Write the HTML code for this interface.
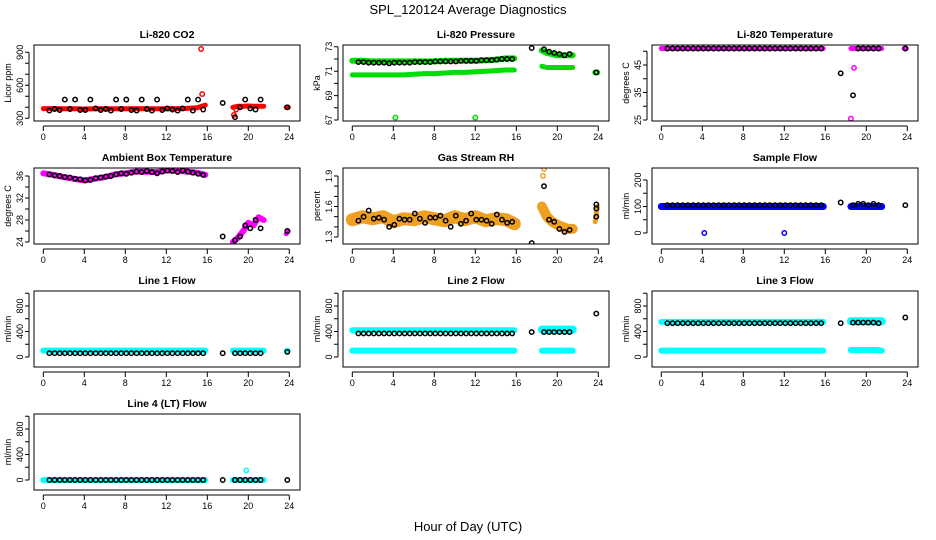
<!DOCTYPE html>
<html><head><meta charset="utf-8"><style>
body{margin:0;background:#fff}
svg{display:block;font-family:"Liberation Sans",sans-serif}
</style></head><body>
<svg id="c" width="936" height="540" viewBox="0 0 936 540">
<text x="468" y="14" text-anchor="middle" font-size="13">SPL_120124  Average Diagnostics</text>
<text x="468" y="531" text-anchor="middle" font-size="13">Hour of Day (UTC)</text>
</svg>
<script>
const H1=[0,1,2,3,4,5,6,7,8,9,10,11,12,13,14,15,15.8];
const H2=[18.5,19,19.5,20,20.5,21,21.5];
const H3=[23.7,23.9];
const B1=[0.6,1.1,1.6,2.1,2.6,3.1,3.6,4.1,4.6,5.1,5.6,6.1,6.6,7.1,7.6,8.1,8.6,9.1,9.6,10.1,10.6,11.1,11.6,12.1,12.6,13.1,13.6,14.1,14.6,15.1,15.6];
const BX=[17.5,18.7,19.2,19.7,20.2,20.7,21.2,23.8];
const xTicks=[0,4,8,12,16,20,24];

// CO2
const co2Red1=[388,388,386,386,385,386,387,386,386,388,387,386,386,388,390,395,420];
const co2Red2=[400,410,410,412,410,410,410];
const co2Red3=[400,400];
const co2RedOutH=[15.4,15.5,18.6,18.8];
const co2RedOut=[930,520,330,380];
const co2Black=[370,385,375,470,385,470,375,375,470,390,375,385,370,470,385,470,375,370,470,385,370,470,375,390,380,370,390,470,370,470,380];
const co2BlackX=[440,310,400,470,390,380,470,400];
// Pressure
const pGreenHi=[71.85,71.85,71.8,71.8,71.8,71.8,71.8,71.8,71.8,71.85,71.85,71.85,71.85,71.9,71.95,72.05,72.05];
const pGreenLo=[70.7,70.7,70.7,70.7,70.7,70.7,70.75,70.8,70.8,70.85,70.9,70.9,70.95,71,71.05,71.1,71.1];
const pBlack=[71.75,71.75,71.7,71.7,71.7,71.7,71.65,71.7,71.7,71.7,71.7,71.75,71.75,71.75,71.75,71.8,71.8,71.8,71.8,71.8,71.85,71.85,71.85,71.85,71.9,71.9,71.9,71.95,72,72,72];
const pBlackX=[72.9,72.8,72.6,72.5,72.4,72.3,72.4,70.9];
const pGreenHi2=[72.7,72.5,72.4,72.3,72.3,72.3,72.3];
const pGreenLo2=[71.4,71.3,71.3,71.3,71.3,71.3,71.3];
const pGreen3=[70.9,70.9];
const pGreenOutH=[4.2,12];
const pGreenOut=[67.2,67.2];
// Li-820 temperature
const tMag1=[51,51,51,51,51,51,51,51,51,51,51,51,51,51,51,51,51];
const tMag2=[51,51,51,51,51,51,51];
const tMag3=[51,51];
const tBlack=[51,51,51,51,51,51,51,51,51,51,51,51,51,51,51,51,51,51,51,51,51,51,51,51,51,51,51,51,51,51,51];
const tBlackX=[42,34,51,51,51,51,51,51];
const tMagOutH=[18.5,18.8];
const tMagOut=[25.5,44];
// Ambient
const aMag1=[36.5,36.2,35.8,35.5,35.2,35.5,35.8,36.3,36.5,36.8,36.8,36.7,37,37,36.8,36.6,36.2];
const aMag2=[24,24.8,26,27.5,27,28.5,28];
const aMag3=[25.5,26];
const aBlack=[36.3,36.1,36,35.8,35.7,35.5,35.4,35.2,35.3,35.6,35.7,35.9,36,36.3,36.5,36.4,36.6,36.8,36.7,36.9,36.7,36.5,36.8,37,36.9,36.7,37,36.8,36.6,36.4,36.2];
const aBlackX=[25,24.3,25,27,26.5,28,26.5,26];
// RH
const rhOr1=[1.47,1.5,1.48,1.5,1.45,1.48,1.47,1.5,1.48,1.46,1.5,1.47,1.5,1.46,1.48,1.47,1.43];
const rhOr2=[1.6,1.5,1.45,1.42,1.4,1.38,1.38];
const rhOr3=[1.45,1.6];
const rhOrOutH=[18.6,18.7];
const rhOrOut=[1.9,1.97];
const rhBlack=[1.46,1.5,1.56,1.48,1.49,1.47,1.40,1.42,1.48,1.47,1.47,1.53,1.48,1.44,1.49,1.49,1.51,1.46,1.40,1.51,1.43,1.46,1.53,1.47,1.47,1.46,1.43,1.52,1.47,1.44,1.45];
const rhBlackX=[1.24,1.8,1.47,1.45,1.38,1.35,1.37,1.58];
const rhBlackOutH=[23.8,23.8];
const rhBlackOut=[1.5,1.62];
// Sample flow
const sBlue1=[100,100,100,100,100,100,100,100,100,100,100,100,100,100,100,100,100];
const sBlue2=[100,100,100,100,100,100,100];
const sBlack=[105,105,105,105,105,105,105,105,105,105,105,105,105,105,105,105,105,105,105,105,105,105,105,105,105,105,105,105,105,105,105];
const sBlackX=[115,105,110,110,105,110,105,105];
const sBlueOutH=[4.2,12];
const sBlueOut=[0,0];
// Line 1
const l1Cyan1=[100,100,100,100,100,100,100,100,100,100,100,100,100,100,100,100,100];
const l1Cyan2=[100,100,100,100,100,100,100];
const l1Cyan3=[100,100];
const l1Black=[60,60,60,60,60,60,60,60,60,60,60,60,60,60,60,60,60,60,60,60,60,60,60,60,60,60,60,60,60,60,60];
const l1BlackX=[60,60,60,60,60,60,60,80];
// Line 2
const l2CyanLo1=[100,100,100,100,100,100,100,100,100,100,100,100,100,100,100,100,100];
const l2CyanHi1=[420,420,420,420,420,420,420,420,420,420,420,420,420,420,420,420,420];
const l2CyanLo2=[100,100,100,100,100,100,100];
const l2CyanHi2=[430,430,430,430,430,430,430];
const l2Black=[370,370,370,370,370,370,370,370,370,370,370,370,370,370,370,370,370,370,370,370,370,370,370,370,370,370,370,370,370,370,370];
const l2BlackX=[390,390,390,390,390,390,390,680];
// Line 3
const l3CyanLo1=[100,100,100,100,100,100,100,100,100,100,100,100,100,100,100,100,100];
const l3CyanHi1=[550,550,550,550,550,550,550,550,550,550,550,550,550,550,550,550,550];
const l3CyanLo2=[110,110,110,110,110,110,100];
const l3CyanHi2=[560,560,560,560,560,560,560];
const l3Black=[530,530,530,530,530,530,530,530,530,530,530,530,530,530,530,530,530,530,530,530,530,530,530,530,530,530,530,530,530,530,530];
const l3BlackX=[530,540,540,540,540,540,530,620];
// Line 4
const l4Cyan1=[0,0,0,0,0,0,0,0,0,0,0,0,0,0,0,0,0];
const l4Cyan2=[0,0,0,0,0,0,0];
const l4Black=[0,0,0,0,0,0,0,0,0,0,0,0,0,0,0,0,0,0,0,0,0,0,0,0,0,0,0,0,0,0,0];
const l4BlackX=[0,0,0,0,0,0,0,0];
const l4CyanOutH=[19.8];
const l4CyanOut=[150];

const lineTicks=[0,200,400,600,800,1000], lineLabels=[0,400,800];
const CY='#00ffff',MG='#ff00ff',GR='#00dd00',OR='#f0a020';
const panels=[
 {name:'li820-co2',title:'Li-820 CO2',yl:'Licor ppm',c:0,r:0,v0:300,y0:118.3,v1:900,y1:52.3,ticks:[300,400,500,600,700,800,900],labels:[300,600,900],s:[
  ['band','#ff0000',H1,co2Red1,5],['band','#ff0000',H2,co2Red2,5],['band','#ff0000',H3,co2Red3,5],['pts','#ff0000',co2RedOutH,co2RedOut],
  ['pts','#000',B1,co2Black],['pts','#000',BX,co2BlackX]]},
 {name:'li820-pressure',title:'Li-820 Pressure',yl:'kPa',c:1,r:0,v0:67,y0:120,v1:73,y1:46.8,ticks:[67,68,69,70,71,72,73],labels:[67,69,71,73],s:[
  ['band',GR,H1,pGreenLo,5],['band',GR,H1,pGreenHi,6],['band',GR,H2,pGreenHi2,6],['band',GR,H2,pGreenLo2,5],['pts',GR,H3,pGreen3],['pts',GR,pGreenOutH,pGreenOut],
  ['pts','#000',B1,pBlack],['pts','#000',BX,pBlackX]]},
 {name:'li820-temperature',title:'Li-820 Temperature',yl:'degrees C',c:2,r:0,v0:25,y0:120,v1:45,y1:65,ticks:[25,30,35,40,45,50],labels:[25,35,45],s:[
  ['band',MG,H1,tMag1,5],['band',MG,H2,tMag2,5],['band',MG,H3,tMag3,5],['pts',MG,tMagOutH,tMagOut],
  ['pts','#000',B1,tBlack],['pts','#000',BX,tBlackX]]},
 {name:'ambient-box-temperature',title:'Ambient Box Temperature',yl:'degrees C',c:0,r:1,v0:24,y0:242,v1:36,y1:176,ticks:[24,26,28,30,32,34,36],labels:[24,28,32,36],s:[
  ['band',MG,H1,aMag1,6],['band',MG,H2,aMag2,6],['band',MG,H3,aMag3,5],
  ['pts','#000',B1,aBlack],['pts','#000',BX,aBlackX]]},
 {name:'gas-stream-rh',title:'Gas Stream RH',yl:'percent',c:1,r:1,v0:1.3,y0:237,v1:1.9,y1:176,ticks:[1.3,1.4,1.5,1.6,1.7,1.8,1.9],labels:[1.3,1.6,1.9],s:[
  ['band',OR,H1,rhOr1,13],['band',OR,H2,rhOr2,10],['band',OR,H3,rhOr3,5],['pts',OR,rhOrOutH,rhOrOut],
  ['pts','#000',B1,rhBlack],['pts','#000',BX,rhBlackX],['pts','#000',rhBlackOutH,rhBlackOut]]},
 {name:'sample-flow',title:'Sample Flow',yl:'ml/min',c:2,r:1,v0:0,y0:233,v1:200,y1:180,ticks:[0,50,100,150,200],labels:[0,100,200],s:[
  ['band','#0000ff',H1,sBlue1,7],['band','#0000ff',H2,sBlue2,7],['pts','#0000ff',sBlueOutH,sBlueOut],
  ['pts','#000',B1,sBlack],['pts','#000',BX,sBlackX]]},
 {name:'line1-flow',title:'Line 1 Flow',yl:'ml/min',c:0,r:2,v0:0,y0:357,v1:800,y1:306,ticks:lineTicks,labels:lineLabels,s:[
  ['band',CY,H1,l1Cyan1,6],['band',CY,H2,l1Cyan2,6],['band',CY,H3,l1Cyan3,5],['pts','#000',B1,l1Black],['pts','#000',BX,l1BlackX]]},
 {name:'line2-flow',title:'Line 2 Flow',yl:'ml/min',c:1,r:2,v0:0,y0:357,v1:800,y1:306,ticks:lineTicks,labels:lineLabels,s:[
  ['band',CY,H1,l2CyanLo1,6],['band',CY,H1,l2CyanHi1,6],['band',CY,H2,l2CyanLo2,6],['band',CY,H2,l2CyanHi2,8],['pts','#000',B1,l2Black],['pts','#000',BX,l2BlackX]]},
 {name:'line3-flow',title:'Line 3 Flow',yl:'ml/min',c:2,r:2,v0:0,y0:357,v1:800,y1:306,ticks:lineTicks,labels:lineLabels,s:[
  ['band',CY,H1,l3CyanLo1,6],['band',CY,H1,l3CyanHi1,6],['band',CY,H2,l3CyanLo2,6],['band',CY,H2,l3CyanHi2,8],['pts','#000',B1,l3Black],['pts','#000',BX,l3BlackX]]},
 {name:'line4-flow',title:'Line 4 (LT) Flow',yl:'ml/min',c:0,r:3,v0:0,y0:480,v1:800,y1:429,ticks:lineTicks,labels:lineLabels,s:[
  ['band',CY,H1,l4Cyan1,6],['band',CY,H2,l4Cyan2,6],['pts',CY,l4CyanOutH,l4CyanOut],['pts','#000',B1,l4Black],['pts','#000',BX,l4BlackX]]}
];
const NS='http://www.w3.org/2000/svg', svg=document.getElementById('c');
const colL=[34,343,652], rowT=[45,168,291,414], W=266, Hh=76;
function mk(tag,at,parent){const e=document.createElementNS(NS,tag);for(const k in at)e.setAttribute(k,at[k]);(parent||svg).appendChild(e);return e;}
panels.forEach((p,i)=>{
 const L=colL[p.c],T=rowT[p.r];
 const g=mk('g',{});
 
 
 const xs=h=>L+9.3+h*10.25;
 const ys=v=>p.y0+(v-p.v0)*(p.y1-p.y0)/(p.v1-p.v0);
 const cp=mk('clipPath',{id:'cp'+i},g);mk('rect',{x:L,y:T,width:W,height:Hh},cp);
 const t=mk('text',{x:L+W/2,y:T-7,'text-anchor':'middle','font-size':10.5,'font-weight':'bold'},g);t.textContent=p.title;
 
 
 const yt=mk('text',{x:0,y:0,'text-anchor':'middle','font-size':9,transform:`translate(${L-23},${T+Hh/2}) rotate(-90)`},g);yt.textContent=p.yl;
 
 
 const data=mk('g',{'clip-path':`url(#cp${i})`},g);
 p.s.forEach(s=>{
  const [type,col,hs,vs,w]=s;
  if(type==='band'){
   const pts=hs.map((h,k)=>xs(h).toFixed(1)+','+ys(vs[k]).toFixed(1)).join(' ');
   const pl=mk('polyline',{points:pts,fill:'none',stroke:col,'stroke-width':w,'stroke-linecap':'round','stroke-linejoin':'round'},data);
   
   
  } else {
   hs.forEach((h,k)=>{
    const c=mk('circle',{cx:xs(h).toFixed(1),cy:ys(vs[k]).toFixed(1),r:2.2,fill:'none',stroke:col,'stroke-width':1.5},data);
    
    
   });
  }
 });
 const box=mk('rect',{x:L,y:T,width:W,height:Hh,fill:'none',stroke:'#000','stroke-width':1},g);
 
 
 const xa=mk('path',{d:`M${xs(0)},${T+Hh+5}H${xs(24)}`+xTicks.map(h=>`M${xs(h)},${T+Hh+5}v5`).join(''),stroke:'#000',fill:'none'},g);
 
 
 xTicks.forEach(h=>{const tx=mk('text',{x:xs(h),y:T+Hh+19,'text-anchor':'middle','font-size':9},g);tx.textContent=h;
  
  });
 const tv=p.ticks;
 const ya=mk('path',{d:`M${L-5},${ys(tv[0])}V${ys(tv[tv.length-1])}`+tv.map(v=>`M${L-5},${ys(v)}h-4`).join(''),stroke:'#000',fill:'none'},g);
 
 
 p.labels.forEach(v=>{const tx=mk('text',{x:0,y:0,'text-anchor':'middle','font-size':9,transform:`translate(${L-11},${ys(v)}) rotate(-90)`},g);tx.textContent=v;
  
  });
});
</script>
</body></html>
